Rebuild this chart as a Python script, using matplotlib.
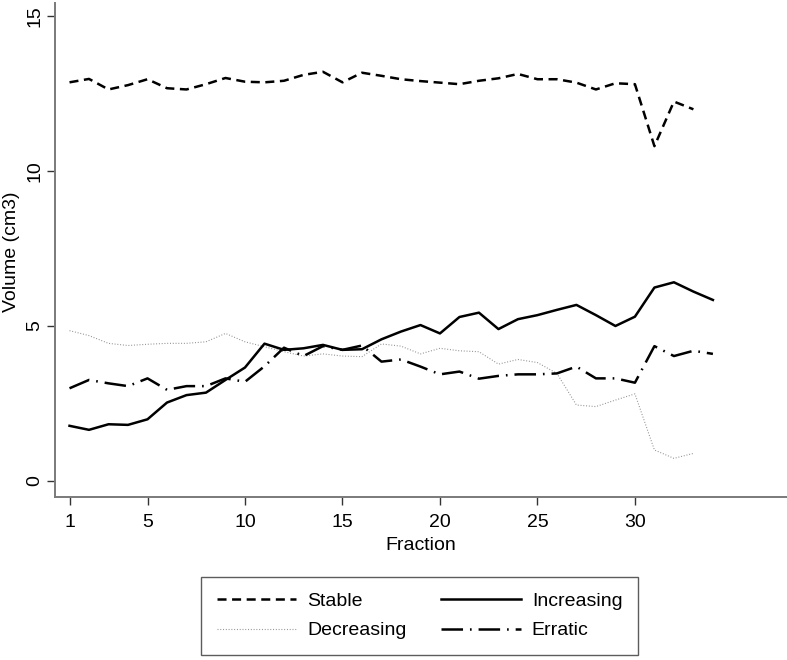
import matplotlib
matplotlib.use("Agg")
import matplotlib.pyplot as plt
from matplotlib import font_manager

fraction = list(range(1, 35))

stable = [12.86, 12.97, 12.63, 12.77, 12.96, 12.67, 12.63, 12.80, 13.00, 12.88,
          12.86, 12.91, 13.10, 13.20, 12.86, 13.17, 13.07, 12.96, 12.90, 12.85,
          12.80, 12.91, 12.99, 13.13, 12.96, 12.96, 12.85, 12.63, 12.83, 12.80,
          10.80, 12.24, 11.99]

increasing = [1.78, 1.65, 1.83, 1.81, 1.99, 2.53, 2.77, 2.85, 3.26, 3.66,
              4.43, 4.23, 4.28, 4.39, 4.23, 4.25, 4.57, 4.82, 5.03, 4.76,
              5.29, 5.43, 4.90, 5.22, 5.35, 5.52, 5.68, 5.35, 5.00, 5.30,
              6.24, 6.41, 6.11, 5.84]

decreasing = [4.85, 4.69, 4.44, 4.37, 4.41, 4.44, 4.44, 4.49, 4.76, 4.49,
              4.33, 4.17, 4.03, 4.10, 4.03, 4.01, 4.42, 4.35, 4.10, 4.28,
              4.20, 4.17, 3.77, 3.92, 3.82, 3.47, 2.45, 2.40, 2.61, 2.81,
              1.00, 0.73, 0.89]

erratic = [2.99, 3.26, 3.15, 3.06, 3.31, 2.94, 3.06, 3.06, 3.31, 3.20,
           3.70, 4.30, 4.03, 4.35, 4.23, 4.37, 3.85, 3.92, 3.69, 3.44,
           3.53, 3.30, 3.39, 3.44, 3.44, 3.47, 3.69, 3.31, 3.31, 3.17,
           4.35, 4.03, 4.20, 4.10]

xticks = [1, 5, 10, 15, 20, 25, 30]
yticks = [0, 5, 10, 15]

avail = {f.name for f in font_manager.fontManager.ttflist}
fam = 'Liberation Sans Narrow' if 'Liberation Sans Narrow' in avail else 'Liberation Sans'
plt.rcParams['font.family'] = [fam, 'DejaVu Sans']
plt.rcParams['lines.scale_dashes'] = False

fig = plt.figure(figsize=(7.87, 6.6), dpi=100)
ax = fig.add_axes([0.0699, 0.247, 0.9301, 0.7485])

ax.plot(fraction[:len(stable)], stable, color='black', lw=1.8,
        dashes=(6.5, 4), label='Stable')
ax.plot(fraction[:len(decreasing)], decreasing, color='#909090', lw=0.8,
        dashes=(0.7, 1.3), label='Decreasing')
ax.plot(fraction[:len(increasing)], increasing, color='black', lw=1.8,
        label='Increasing')
ax.plot(fraction[:len(erratic)], erratic, color='black', lw=1.8,
        dashes=(15.5, 5, 1.2, 5), label='Erratic')

ax.set_xlim(0.256, 37.8)
ax.set_ylim(-0.516, 15.42)
ax.set_xticks(xticks)
ax.set_yticks(yticks)
ax.set_yticklabels([str(v) for v in yticks], rotation=90, va='center')

for s in ['top', 'right']:
    ax.spines[s].set_visible(False)
for s in ['left', 'bottom']:
    ax.spines[s].set_color('#7a7a7a')
    ax.spines[s].set_linewidth(1.4)
ax.tick_params(axis='both', direction='out', length=5.5, width=1.0,
               color='#333333', labelsize=14)
ax.tick_params(axis='x', pad=7)
ax.tick_params(axis='y', pad=3)

ax.set_xlabel('Fraction', fontsize=14, labelpad=4)
fig.text(12 / 787, 1 - 252 / 660, 'Volume (cm3)', rotation=90,
         ha='center', va='center', fontsize=14)

leg = fig.legend(handles=ax.get_lines(), ncol=2, loc='center',
                 bbox_to_anchor=(0.533, 0.0667), fontsize=14,
                 frameon=True, fancybox=False, edgecolor='#333333',
                 handlelength=4.1, handletextpad=0.55, columnspacing=1.8,
                 labelspacing=0.6, borderpad=0.8)
leg.get_frame().set_linewidth(1.0)

fig.savefig('out.png', dpi=100)
